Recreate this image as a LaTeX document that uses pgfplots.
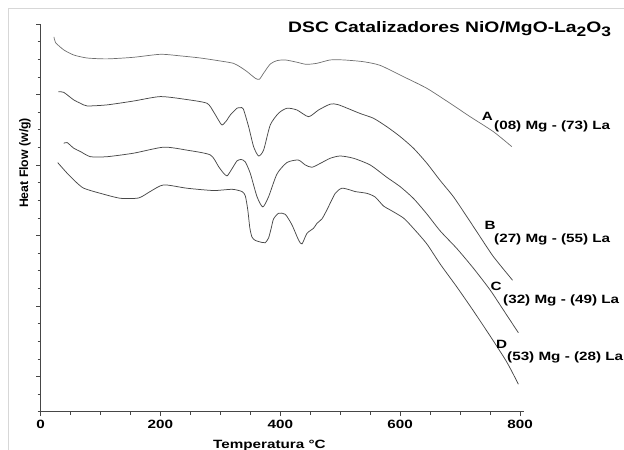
\documentclass[border=0pt]{standalone}
\usepackage{pgfplots}
\pgfplotsset{compat=1.18}
\usepackage{graphicx}
\usepackage{fontspec}
\setmainfont{Liberation Sans}[FakeStretch=1.27]
\newfontfamily\plainsf{Liberation Sans}
\definecolor{curveA}{RGB}{110,110,110}
\definecolor{curveB}{RGB}{72,72,72}
\definecolor{framegray}{RGB}{215,215,215}
\definecolor{axgray}{RGB}{70,70,70}
\begin{document}
\begin{tikzpicture}[x=1bp,y=1bp]
\useasboundingbox (0,0) rectangle (624,450);
\draw[framegray, line width=0.8bp] (8.3,0) -- (8.3,441.7) -- (624,441.7);
\begin{axis}[
  at={(40.5bp,38.3bp)}, anchor=south west,
  scale only axis, width=483.5bp, height=387.7bp,
  xmin=0, xmax=806.6, ymin=0, ymax=22,
  axis lines=left, axis line style={-, draw=axgray, line width=0.8bp},
  xtick={0,200,400,600,800}, xticklabels={0,200,400,600,800},
  minor x tick num=3,
  ytick={2,6,10,14,18,22}, yticklabels={},
  minor ytick={0,...,22},
  tick align=outside,
  major tick length=4.5bp, minor tick length=3bp,
  every tick/.style={draw=axgray, line width=0.6bp},
  /pgf/number format/assume math mode=true,
  xticklabel style={font=\fontsize{12bp}{14bp}\selectfont\bfseries, text=black},
  clip=false,
]
\addplot[curveA, line width=0.7bp, smooth, tension=0.4] coordinates {
(22.5,21.27) (25,20.95) (38.8,20.53) (55.5,20.24) (77.8,20.07) (111.2,20.02) (155,20.11) (200,20.28) (233.3,20.19) (266.7,20.07) (300,19.90) (321.7,19.77) (333.3,19.56) (344.5,19.30) (358.3,18.92) (365,18.86) (372.2,19.21) (383.3,19.73) (394.5,19.92) (408.3,19.96) (427.8,19.83) (443.3,19.71) (461.2,19.77) (483.3,19.96) (505.5,19.96) (538.8,19.86) (566.7,19.65) (605.5,19.01) (644.5,18.35) (683.3,17.50) (716.7,16.74) (755.5,15.89) (786.2,15.04)
};
\addplot[curveB, line width=0.75bp, smooth, tension=0.4] coordinates {
(30,18.16) (38.8,18.12) (55.5,17.69) (66.7,17.50) (77.8,17.35) (111.2,17.41) (155.5,17.63) (200,17.88) (244.5,17.71) (277.8,17.50) (288.8,17.01) (296.7,16.56) (302.8,16.27) (310,16.50) (316.7,16.84) (327.8,17.22) (333.3,17.25) (338.3,17.18) (347.2,16.17) (355.5,15.04) (363.8,14.51) (372.2,14.85) (383.3,16.27) (397.2,16.94) (411.2,17.22) (427.8,17.12) (447.2,16.74) (463.8,17.12) (483.3,17.45) (496.7,17.42) (533.3,16.92) (555.5,16.65) (577.8,16.17) (600,15.61) (622.2,14.95) (644.5,14.10) (666.7,13.12) (688.8,12.20) (711.2,11.07) (733.3,9.93) (755.5,8.80) (787.5,7.46)
};
\addplot[curveB, line width=0.75bp, smooth, tension=0.4] coordinates {
(38.8,15.23) (44.5,15.27) (55.5,14.95) (66.7,14.76) (83.3,14.47) (111.2,14.47) (155.5,14.67) (205.5,15.01) (244.5,14.84) (283.3,14.57) (297.2,13.90) (305,13.55) (311.2,13.38) (318.3,13.72) (327.8,14.23) (335,14.31) (341.7,14.17) (350,13.52) (361.2,12.20) (370.8,11.62) (380.5,12.20) (394.5,13.49) (411.2,14.14) (430,14.28) (441.7,14.00) (452.8,13.87) (466.7,14.09) (483.3,14.38) (500,14.51) (522.2,14.38) (550,14.00) (577.8,13.30) (600,12.77) (622.2,12.10) (644.5,11.22) (666.7,10.26) (694.5,9.26) (722.2,8.14) (750,6.91) (772.2,5.77) (797.2,4.48)
};
\addplot[curveB, line width=0.75bp, smooth, tension=0.4] coordinates {
(28.8,14.13) (44.5,13.53) (58.3,13.06) (72.2,12.68) (100,12.39) (133.3,12.11) (163.8,12.13) (183.3,12.50) (205.5,12.87) (244.5,12.68) (288.8,12.55) (319.5,12.62) (336.2,12.49) (341.7,12.24) (345.8,11.45) (349.2,10.43) (352.8,9.91) (358.3,9.72) (370,9.60) (375,9.59) (380.5,9.86) (385,10.43) (388.8,10.94) (397.2,11.26) (408.3,11.20) (419.5,10.60) (430.5,9.74) (436.2,9.52) (444.5,10.12) (455.5,10.41) (461.2,10.69) (469.5,10.94) (477.8,11.45) (491.7,12.39) (502.8,12.68) (516.7,12.58) (525,12.49) (544.5,12.39) (558.3,12.18) (572.2,11.67) (583.3,11.45) (605.5,10.99) (622.2,10.40) (644.5,9.52) (666.7,8.38) (694.5,7.08) (722.2,5.72) (750,4.30) (777.8,2.82) (797.2,1.56)
};
\end{axis}
\node[anchor=base west, inner sep=0] at (288,417.7) {\fontsize{15.2bp}{17bp}\selectfont\bfseries DSC Catalizadores NiO/MgO-La\raisebox{-4.5bp}{\fontsize{13.7bp}{14bp}\selectfont 2}O\raisebox{-4.5bp}{\fontsize{13.7bp}{14bp}\selectfont 3}};
\begin{scope}[every node/.style={anchor=base west, inner sep=0, font=\fontsize{12bp}{14bp}\selectfont\bfseries}]
\node at (481.7,329.3) {A};
\node at (494,320.7) {(08) Mg - (73) La};
\node at (484.5,220) {B};
\node at (494,207.3) {(27) Mg - (55) La};
\node at (490.5,159.3) {C};
\node at (503,146) {(32) Mg - (49) La};
\node at (496,101) {D};
\node at (507,89.3) {(53) Mg - (28) La};
\node at (213,1.7) {Temperatura °C};
\end{scope}
\node[rotate=90, anchor=center, inner sep=0] at (25,287) {\resizebox{90bp}{!}{\plainsf\bfseries\fontsize{12.5bp}{15bp}\selectfont Heat Flow (w/g)}};
\end{tikzpicture}
\end{document}
